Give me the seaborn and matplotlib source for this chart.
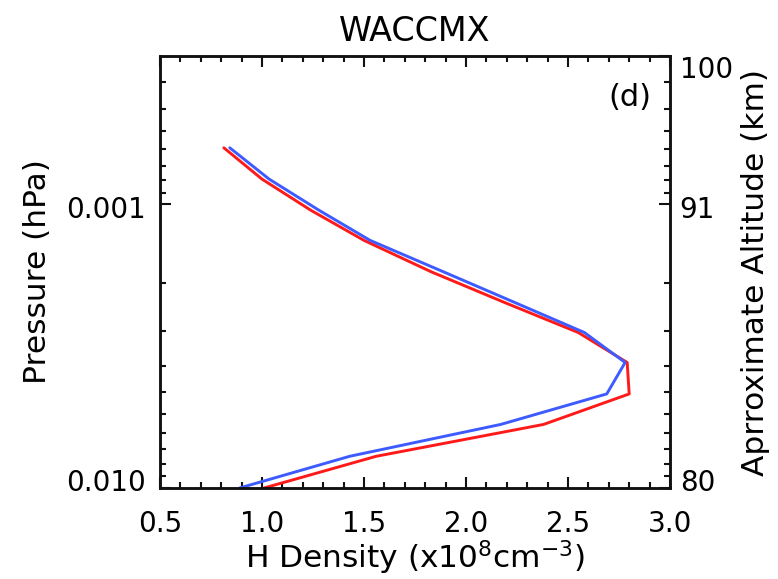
import numpy as np
import pandas as pd
import matplotlib
matplotlib.use("Agg")
import matplotlib.pyplot as plt
from matplotlib.ticker import FixedLocator, NullFormatter, MultipleLocator
from matplotlib.transforms import ScaledTranslation
import seaborn as sns

# Model pressure levels (hPa) and H density profiles (x1e8 cm^-3)
pressure = [0.000632, 0.000815, 0.00105, 0.00134, 0.00173, 0.00222,
            0.00283, 0.00361, 0.00466, 0.00597, 0.00773, 0.0100]
h_red = [0.813, 1.00, 1.24, 1.50, 1.83, 2.19, 2.55, 2.79, 2.80, 2.38, 1.56, 1.01]
h_blue = [0.842, 1.035, 1.28, 1.53, 1.89, 2.24, 2.58, 2.78, 2.69, 2.17, 1.43, 0.89]

p_ticks = [0.01, 0.001]
p_tick_labels = ["0.010", "0.001"]
alt_ticks = [0.01, 0.001, 0.0003]
alt_tick_labels = ["80", "91", "100"]
x_ticks = [0.5, 1.0, 1.5, 2.0, 2.5, 3.0]

sns.set_theme(style="ticks")
plt.rcParams["font.family"] = ["DejaVu Sans"]
plt.rcParams["mathtext.fontset"] = "dejavusans"
plt.rcParams["text.color"] = "black"
plt.rcParams["axes.labelcolor"] = "black"

fig = plt.figure(figsize=(7.78, 5.79), dpi=100)
ax = fig.add_axes([160 / 778, 1 - 488 / 579, (670 - 160) / 778, (488 - 56) / 579])

df_red = pd.DataFrame({"H": h_red, "p": pressure})
df_blue = pd.DataFrame({"H": h_blue, "p": pressure})
sns.lineplot(data=df_red, x="H", y="p", sort=False, estimator=None,
             color="#ff1a1a", lw=2.1, ax=ax)
sns.lineplot(data=df_blue, x="H", y="p", sort=False, estimator=None,
             color="#3d5bff", lw=2.1, ax=ax)

ax.set_yscale("log")
ax.set_ylim(0.01, 0.0003)
ax.set_xlim(0.5, 3.0)

# IDL-style minor ticks: linear steps within each decade
minor_low = 0.01 - 0.0009 * np.arange(1, 10)
minor_up = 0.001 - 0.00009 * np.arange(1, 10)
minor_up = minor_up[minor_up > 0.0003]
y_minor = np.concatenate([minor_low, minor_up])

ax.yaxis.set_major_locator(FixedLocator(p_ticks))
ax.set_yticklabels(p_tick_labels)
ax.yaxis.set_minor_locator(FixedLocator(y_minor))
ax.yaxis.set_minor_formatter(NullFormatter())

ax.xaxis.set_major_locator(FixedLocator(x_ticks))
ax.set_xticklabels([f"{v:.1f}" for v in x_ticks])
ax.xaxis.set_minor_locator(MultipleLocator(0.1))

fs = 20
fl = 22.5
ax.tick_params(which="both", direction="in", top=True, right=False,
               colors="#111111", labelcolor="black", labelsize=fs, width=1.5)
ax.tick_params(axis="x", which="major", length=8, pad=16)
ax.tick_params(axis="y", which="major", length=8, pad=10)
ax.tick_params(which="minor", length=4.3)

for s in ax.spines.values():
    s.set_linewidth(1.8)
    s.set_color("#111111")

# Right axis: approximate altitude
ax2 = ax.twinx()
ax2.set_yscale("log")
ax2.set_ylim(ax.get_ylim())
ax2.yaxis.set_major_locator(FixedLocator(alt_ticks))
ax2.set_yticklabels(alt_tick_labels)
ax2.yaxis.set_minor_locator(FixedLocator(y_minor))
ax2.yaxis.set_minor_formatter(NullFormatter())
ax2.tick_params(which="both", direction="in", colors="#111111",
                labelcolor="black", labelsize=fs, width=1.5)
ax2.tick_params(which="major", length=8, pad=7)
ax2.tick_params(which="minor", length=4.3)
for s in ax2.spines.values():
    s.set_linewidth(1.8)
    s.set_color("#111111")

# nudge the edge labels inward, the middle ones slightly down
def nudge(labels, shifts_px):
    for lab, dy in zip(labels, shifts_px):
        lab.set_transform(lab.get_transform() +
                          ScaledTranslation(0, dy / 100, fig.dpi_scale_trans))

nudge(ax.get_yticklabels(), [8, -3])
nudge(ax2.get_yticklabels(), [8, -3, -11])

ax.set_xlabel(r"H Density (x10$^{8}$cm$^{-3}$)", fontsize=fl, labelpad=0,
              color="black")
ax.set_ylabel("Pressure (hPa)", fontsize=fl, labelpad=10, color="black")
ax2.set_ylabel("Aprroximate Altitude (km)", fontsize=fl, labelpad=6,
               color="black")
ax.set_title("WACCMX", fontsize=24, pad=11, color="black")
ax.text(0.963, 0.905, "(d)", transform=ax.transAxes, ha="right", va="center",
        fontsize=22, color="black")

fig.savefig("out.png", dpi=100)
